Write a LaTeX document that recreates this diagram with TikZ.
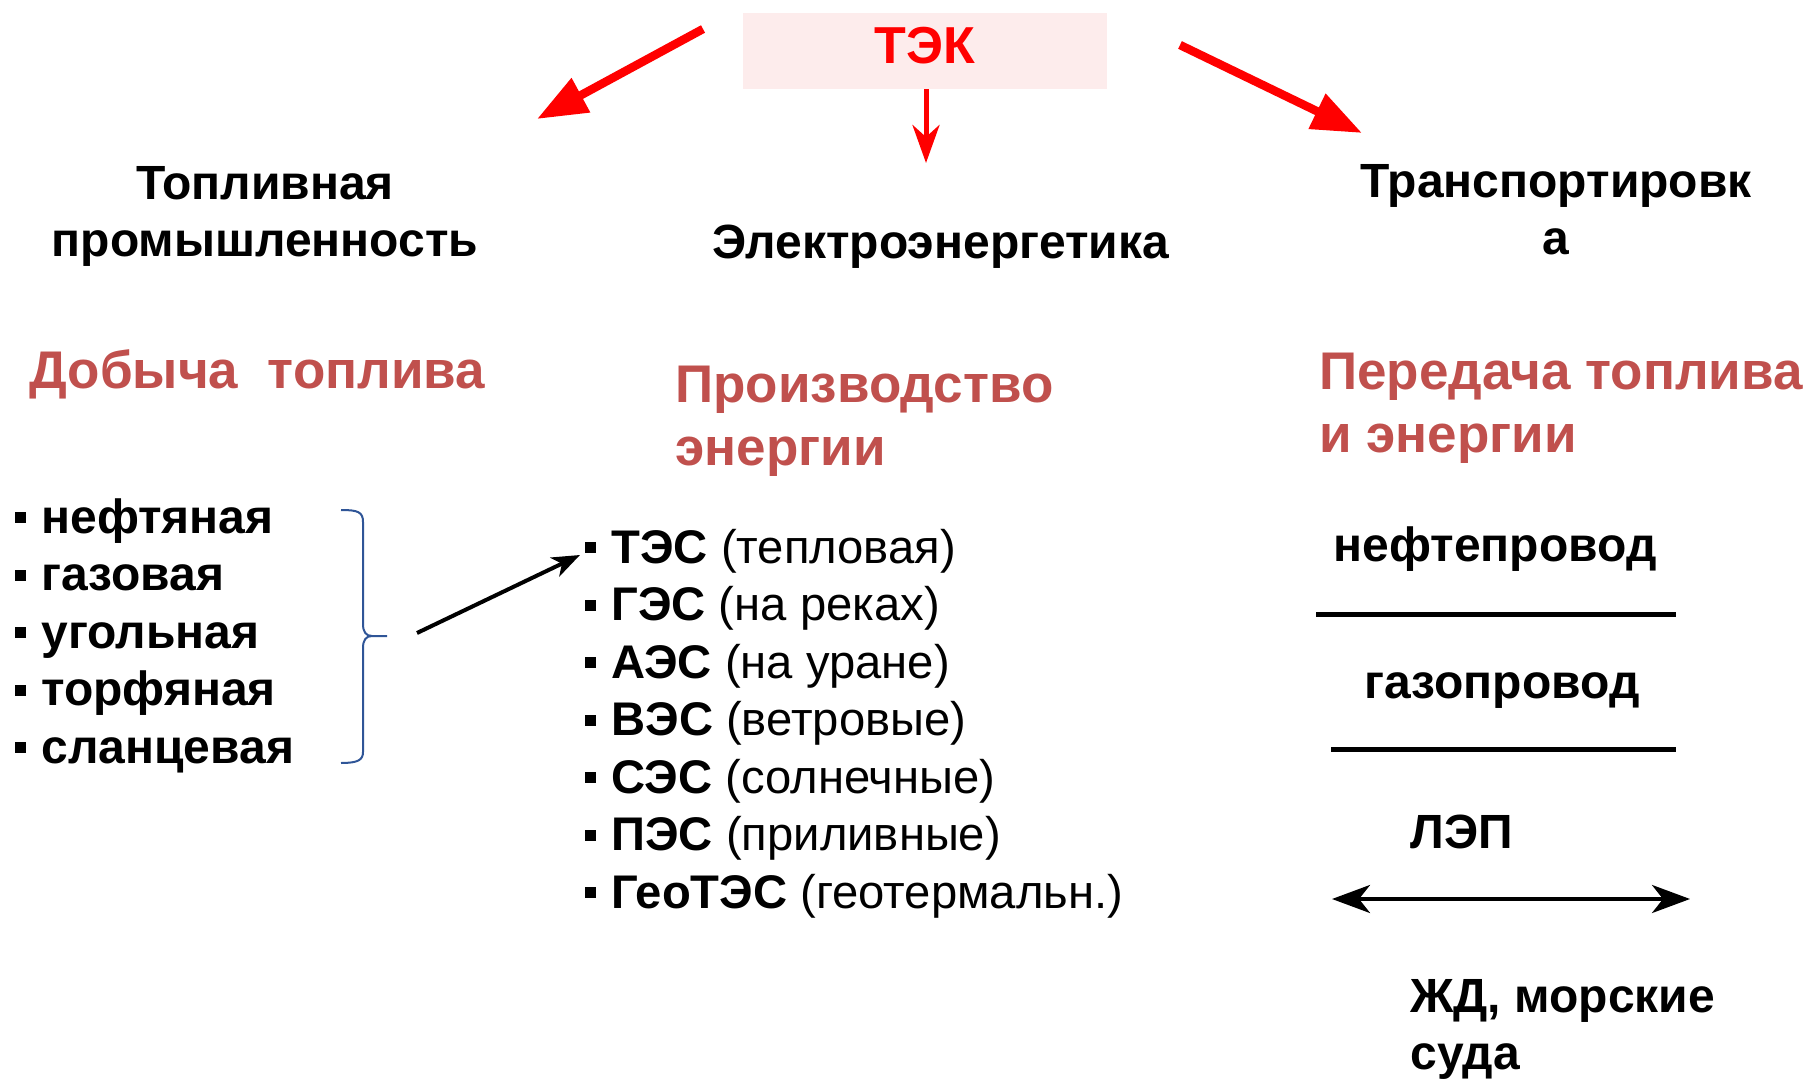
\documentclass[tikz,border=0pt]{standalone}
\usepackage{fontspec}
\setmainfont{Liberation Sans}
\usetikzlibrary{arrows.meta}
\definecolor{tekred}{RGB}{255,0,0}
\definecolor{tekpink}{RGB}{253,236,236}
\definecolor{subred}{RGB}{192,80,77}
\definecolor{braceblue}{RGB}{47,85,151}
\newcommand{\bul}{\rule[5pt]{5.5pt}{5.5pt}\hspace{7.5pt}}

\begin{document}
\begin{tikzpicture}[x=0.5pt,y=-0.5pt]
    \tikzset{
        head/.style={inner sep=0, font=\bfseries\fontsize{24}{28.5}\selectfont, align=center, anchor=base},
        sub/.style={inner sep=0, text=subred, font=\bfseries\fontsize{26.5}{31.5}\selectfont, align=left, anchor=base west},
        item/.style={inner sep=0, font=\fontsize{24}{28.75}\selectfont, align=left, anchor=base west},
        wide/.style={draw=tekred, line width=4.25pt, -{Triangle[length=25pt, width=18.5pt]}},
        thin/.style={draw=tekred, line width=2.5pt, -{Stealth[length=19pt, width=13.5pt, inset=6pt]}},
        rule/.style={line width=2.5pt},
        both/.style={line width=2pt, {Stealth[length=19pt, width=14pt, inset=5.5pt]}-{Stealth[length=19pt, width=14pt, inset=5.5pt]}}
    }
    \useasboundingbox (0,0) rectangle (1808,1079);

    % top
    \draw node[fill=tekpink, text=tekred, minimum width=182pt, minimum height=38pt, inner sep=0,
        font=\bfseries\fontsize{26}{30}\selectfont, text height=18.6pt, text depth=5.6pt] (tek) at (925,51) {ТЭК};
    \coordinate (lstart) at (703,29);
    \coordinate (lend) at (537,119);
    \coordinate (mend) at (926,163);
    \coordinate (rstart) at (1180,45);
    \coordinate (rend) at (1362,133);
    \foreach \x/\y in {lstart/lend, rstart/rend}{
        \draw[wide] (\x) -- (\y);
    }
    \draw[thin] (tek.south -| mend) -- (mend);

    % headings (multi-line nodes sit on their last line)
    \draw node[head] (fuel) at (265,257) {Топливная\\промышленность};
    \draw node[head] (elec) at (941,259) {Электроэнергетика};
    \draw node[head] (trans) at (1556,255) {Транспортировк\\а};

    \draw node[sub] (dob) at (29,389) {Добыча\ \ топлива};
    \draw node[sub] (prod) at (675,466) {Производство\\энергии};
    \draw node[sub] (pered) at (1319,452) {Передача топлива\\и энергии};

    % fuel branches
    \draw node[item, font=\bfseries\fontsize{24}{28.75}\selectfont] (fuellist) at (15,763)
        {\bul нефтяная\\\bul газовая\\\bul угольная\\\bul торфяная\\\bul сланцевая};
    \draw[braceblue, line width=1pt]
        (341,510) .. controls (358,510) and (363,512) .. (363,522) -- (363,624)
        .. controls (363,632) and (366,636) .. (372,636) -- (387,636)
        (372,636) .. controls (366,636) and (363,640) .. (363,648) -- (363,752)
        .. controls (363,760) and (358,763) .. (341,763);

    \coordinate (bstart) at (417,633);
    \coordinate (bend) at (580,555);
    \draw[line width=2pt, -{Stealth[length=14pt, width=10.5pt, inset=4pt]}] (bstart) -- (bend);

    % power plants
    \draw node[item, font=\fontsize{23.6}{28.75}\selectfont] (plants) at (585,908)
        {\bul\textbf{ТЭС} (тепловая)\\
         \bul\textbf{ГЭС} (на реках)\\
         \bul\textbf{АЭС} (на уране)\\
         \bul\textbf{ВЭС} (ветровые)\\
         \bul\textbf{СЭС} (солнечные)\\
         \bul\textbf{ПЭС} (приливные)\\
         \bul\textbf{ГеоТЭС} (геотермальн.)};

    % transport
    \draw node[head] (oil) at (1495,561) {нефтепровод};
    \draw node[head] (gas) at (1502,698) {газопровод};
    \draw node[head, anchor=base west] (lep) at (1410,848) {ЛЭП};
    \draw node[head, anchor=base west, align=left] (rail) at (1410,1069) {ЖД, морские\\суда};

    \coordinate (oa) at (1316,614);
    \coordinate (ob) at (1676,614);
    \coordinate (ga) at (1331,749);
    \coordinate (gb) at (1676,749);
    \foreach \x/\y in {oa/ob, ga/gb}{
        \draw[rule] (\x) -- (\y);
    }
    \coordinate (la) at (1332,899);
    \coordinate (lb) at (1690,899);
    \draw[both] (la) -- (lb);
\end{tikzpicture}
\end{document}
